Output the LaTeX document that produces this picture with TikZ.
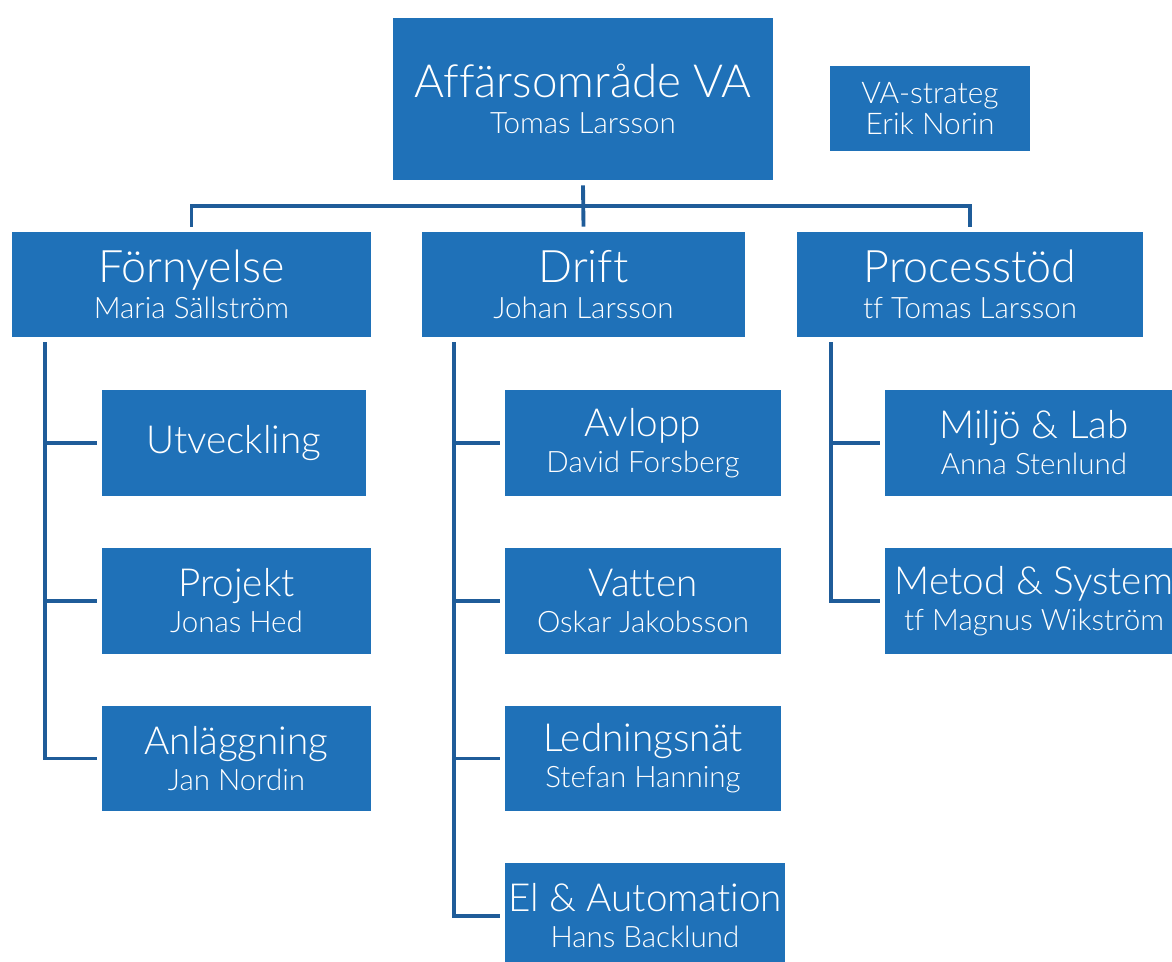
\documentclass[tikz,border=0pt]{standalone}
\usepackage{fontspec}
\setmainfont{Lato Light}[Ligatures=NoCommon]
\usepackage{tikz}
\definecolor{BoxBlue}{HTML}{1F71B8}
\definecolor{LineBlue}{HTML}{1F5C99}
\newcommand{\headsize}{\fontsize{26}{30}\selectfont}
\newcommand{\deptsize}{\fontsize{25.5}{28}\selectfont}
\newcommand{\titlesize}{\fontsize{22}{26}\selectfont}
\newcommand{\namesize}{\fontsize{16.8}{20.5}\selectfont}

\tikzset{
  unit/.style={fill=BoxBlue, text=white, align=center, inner sep=0pt, font=\namesize},
  conn/.style={draw=LineBlue, line width=2.2pt},
}

\begin{document}
\begin{tikzpicture}
        \useasboundingbox (0,0) rectangle (23.44,-19.22);

        % top level
        \node[unit, minimum width=7.6cm, minimum height=3.24cm] (va) at (11.66,-1.98)
            {{\headsize Affärsområde VA}\\Tomas Larsson};
        \node[unit, minimum width=4cm, minimum height=1.7cm, font=\fontsize{17}{18}\selectfont] (strateg) at (18.6,-2.17)
            {VA-strateg\\Erik Norin};

        % departments
        \node[unit, minimum width=7.18cm, minimum height=2.1cm] (fornyelse) at (3.83,-5.69)
            {{\deptsize Förnyelse}\\Maria Sällström};
        \node[unit, minimum width=6.46cm, minimum height=2.1cm] (drift) at (11.67,-5.69)
            {{\deptsize Drift}\\Johan Larsson};
        \node[unit, minimum width=6.92cm, minimum height=2.1cm] (processtod) at (19.4,-5.69)
            {{\deptsize Processtöd}\\tf Tomas Larsson};

        % Förnyelse
        \node[unit, minimum width=5.28cm, minimum height=2.12cm] (utveckling) at (4.68,-8.86)
            {\titlesize Utveckling};
        \node[unit, minimum width=5.38cm, minimum height=2.12cm] (projekt) at (4.73,-12.02)
            {{\titlesize Projekt}\\Jonas Hed};
        \node[unit, minimum width=5.38cm, minimum height=2.1cm] (anlaggning) at (4.73,-15.17)
            {{\titlesize Anläggning}\\Jan Nordin};

        % Drift
        \node[unit, minimum width=5.52cm, minimum height=2.12cm] (avlopp) at (12.86,-8.86)
            {{\titlesize Avlopp}\\David Forsberg};
        \node[unit, minimum width=5.52cm, minimum height=2.12cm] (vatten) at (12.86,-12.02)
            {{\titlesize Vatten}\\Oskar Jakobsson};
        \node[unit, minimum width=5.52cm, minimum height=2.1cm] (ledningsnat) at (12.86,-15.17)
            {{\titlesize Ledningsnät}\\Stefan Hanning};
        \node[unit, minimum width=5.6cm, minimum height=2.12cm] (el) at (12.9,-18.32)
            {{\titlesize El \& Automation}\\Hans Backlund};

        % Processtöd
        \node[unit, minimum width=5.96cm, minimum height=2.12cm] (miljo) at (20.68,-8.86)
            {{\titlesize Miljö \& Lab}\\Anna Stenlund};
        \node[unit, minimum width=5.96cm, minimum height=2.12cm] (metod) at (20.68,-12.02)
            {{\titlesize Metod \& System}\\tf Magnus Wikström};

        % connectors
        \draw[conn] ([yshift=-0.1cm]va.south) -- ([yshift=0.1cm]drift.north);
        \draw[conn] ([yshift=0.1cm]fornyelse.north) |- ([yshift=-0.52cm]va.south) -| ([yshift=0.1cm]processtod.north);

        \draw[conn] ([xshift=0.66cm,yshift=-0.1cm]fornyelse.south west) |- ([xshift=-0.1cm]anlaggning.west);
        \draw[conn] ([xshift=-0.1cm]utveckling.west) -- ([xshift=0.66cm]fornyelse.south west |- utveckling.west);
        \draw[conn] ([xshift=-0.1cm]projekt.west) -- ([xshift=0.66cm]fornyelse.south west |- projekt.west);

        \draw[conn] ([xshift=0.64cm,yshift=-0.1cm]drift.south west) |- ([xshift=-0.1cm]el.west);
        \draw[conn] ([xshift=-0.1cm]avlopp.west) -- ([xshift=0.64cm]drift.south west |- avlopp.west);
        \draw[conn] ([xshift=-0.1cm]vatten.west) -- ([xshift=0.64cm]drift.south west |- vatten.west);
        \draw[conn] ([xshift=-0.1cm]ledningsnat.west) -- ([xshift=0.64cm]drift.south west |- ledningsnat.west);

        \draw[conn] ([xshift=0.68cm,yshift=-0.1cm]processtod.south west) |- ([xshift=-0.1cm]metod.west);
        \draw[conn] ([xshift=-0.1cm]miljo.west) -- ([xshift=0.68cm]processtod.south west |- miljo.west);

    \end{tikzpicture}
\end{document}
